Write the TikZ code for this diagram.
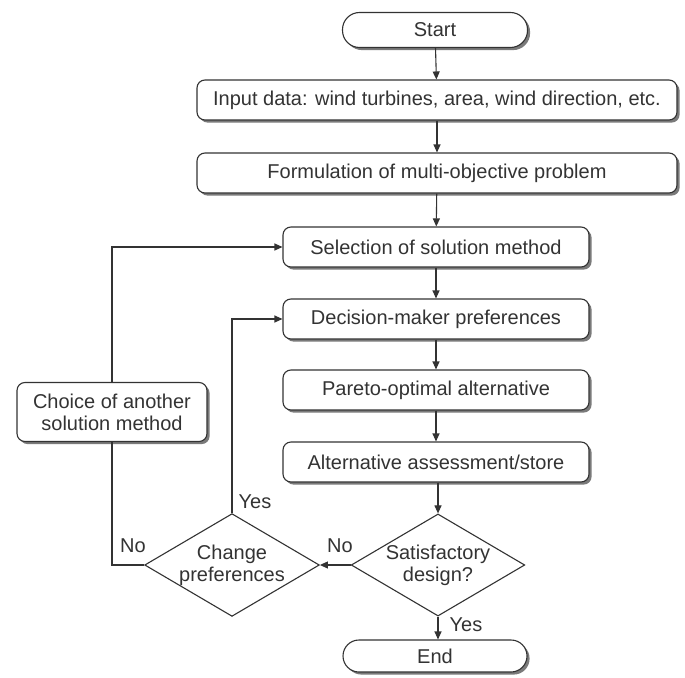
\documentclass[tikz,border=0pt]{standalone}
\usepackage{fontspec}
\setmainfont{Liberation Sans}
\usetikzlibrary{shapes.geometric,arrows.meta,shadows}
\definecolor{ink}{HTML}{333333}
\definecolor{shade}{HTML}{7A7A7A}
\tikzset{
  every node/.style={text=ink,font=\fontsize{20}{22}\selectfont},
  procbox/.style={draw=ink,line width=1.1pt,fill=white,rounded corners=8pt,
    inner sep=0pt,align=center,
    drop shadow={shadow xshift=2.6pt,shadow yshift=-2.6pt,fill=shade,opacity=1}},
  termbox/.style={procbox,rounded corners=17pt},
  decide/.style={draw=ink,line width=1.1pt,fill=white,diamond,aspect=1.7,
    inner sep=0pt,align=center,minimum width=171pt,minimum height=100pt},
  flow/.style={draw=ink,line width=1.1pt,-{Triangle[length=8pt,width=7pt]}},
  plain/.style={draw=ink,line width=1.1pt},
  lbl/.style={inner sep=0pt}
}
\begin{document}
\begin{tikzpicture}[x=1pt,y=-1pt]
\useasboundingbox[fill=white] (0,0) rectangle (685,677);
\node[termbox,minimum width=185pt,minimum height=35pt] (start) at (435,30) {Start};
\node[procbox,minimum width=480pt,minimum height=40pt] (input) at (437,100) {Input data: wind turbines, area, wind direction, etc.};
\node[procbox,minimum width=480pt,minimum height=40pt] (form) at (437,173) {Formulation of multi-objective problem};
\node[procbox,minimum width=306pt,minimum height=40pt] (sel) at (436,247) {Selection of solution method};
\node[procbox,minimum width=306pt,minimum height=40pt] (dec) at (436,319) {Decision-maker preferences};
\node[procbox,minimum width=306pt,minimum height=40pt] (par) at (436,390) {Pareto-optimal alternative};
\node[procbox,minimum width=306pt,minimum height=40pt] (alt) at (436,462) {Alternative assessment/store};
\node[decide] (sat) at (438,565) {Satisfactory\\design?};
\node[decide] (chg) at (232,565) {Change\\preferences};
\node[termbox,minimum width=184pt,minimum height=32pt,rounded corners=16pt] (end) at (435,656) {End};
\node[procbox,minimum width=190pt,minimum height=59pt] (choice) at (112,412) {Choice of another\\solution method};

\draw[flow] (start) -- (input);
\draw[flow] (input) -- (form);
\draw[flow] (form) -- (sel);
\draw[flow] (sel) -- (dec);
\draw[flow] (dec) -- (par);
\draw[flow] (par) -- (alt);
\draw[flow] (alt.south -| sat.north) -- (sat.north);
\draw[flow] (sat.south) -- (sat.south |- end.north);
\draw[flow] (sat.west) -- (chg.east);
\draw[flow] (chg.north) |- (dec.west);
\draw[plain] (chg.west) -| (choice.south);
\draw[flow] (choice.north) |- (sel.west);

\node[lbl] (yes1) at (466,625) {Yes};
\node[lbl] (no1) at (340,546) {No};
\node[lbl] (yes2) at (255,502) {Yes};
\node[lbl] (no2) at (133,546) {No};
\end{tikzpicture}
\end{document}
